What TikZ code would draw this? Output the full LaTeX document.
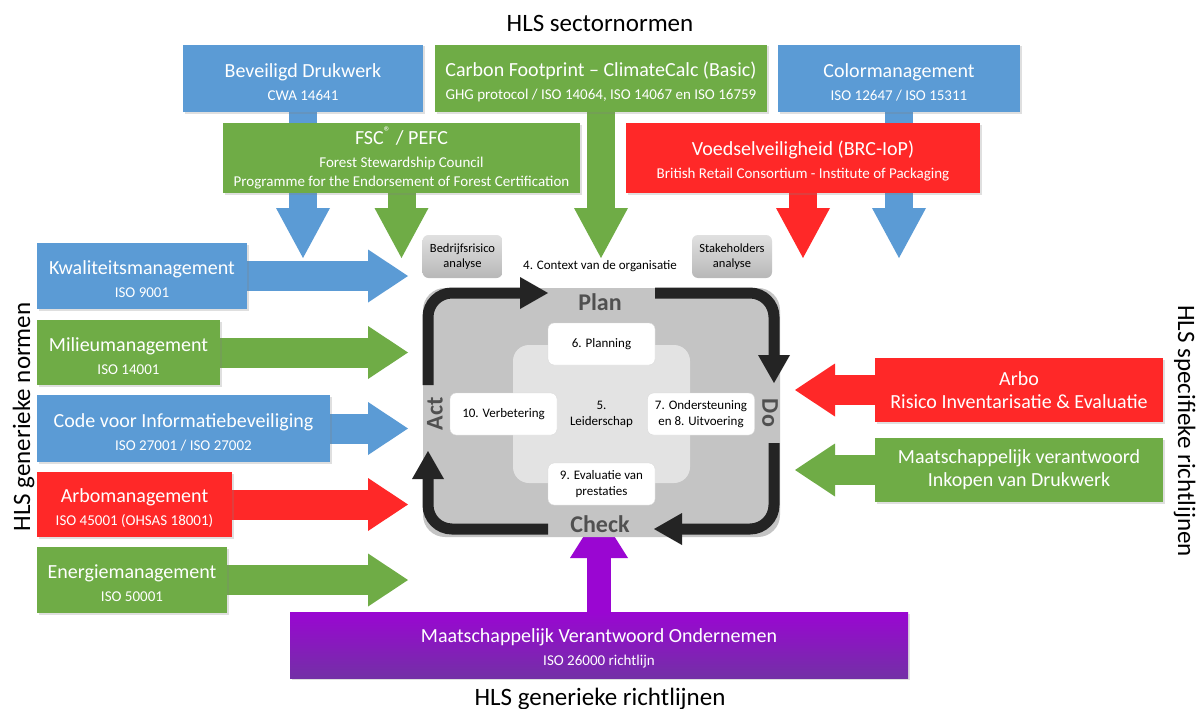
\documentclass[tikz,border=0pt]{standalone}
\usepackage{fontspec}
\setmainfont{Carlito}
\usetikzlibrary{arrows.meta,shadows,backgrounds}

\definecolor{hlsblue}{HTML}{5B9BD5}
\definecolor{hlsgreen}{HTML}{6FAC46}
\definecolor{hlsred}{HTML}{FF2828}
\definecolor{purpletop}{HTML}{9A06D2}
\definecolor{purplebot}{HTML}{7330A6}
\definecolor{pdcagray}{HTML}{C4C4C4}
\definecolor{pdcalight}{HTML}{E3E3E3}
\definecolor{pdcaline}{HTML}{242424}
\definecolor{pdcatext}{HTML}{505050}

\newcommand\bigtxt{\fontsize{20}{23}\selectfont}
\newcommand\subtxt{\fontsize{15}{18}\selectfont}
\newcommand\pdcatxt{\fontsize{13}{16}\selectfont}
\newcommand\headtxt{\fontsize{25}{30}\selectfont}
\newcommand\lowr{\rule{0pt}{21pt}}

\begin{document}
\begin{tikzpicture}[x=1pt,y=-1pt,
  norm/.style={text=white,align=center,inner sep=0pt,font=\bigtxt,
    drop shadow={opacity=0.25,shadow xshift=1.5pt,shadow yshift=-1.5pt}},
  downarr/.style={line width=28pt,-{Triangle[width=54pt,length=50pt,line width=0pt]}},
  sidearr/.style={line width=30pt,-{Triangle[width=53pt,length=40pt,line width=0pt]}},
  uparr/.style={line width=24pt,-{Triangle[width=58pt,length=46pt,line width=0pt]}},
  cyc/.style={line width=11pt,draw=pdcaline,rounded corners=24pt,-{Triangle[width=32pt,length=28pt,line width=0pt]}},
  small/.style={fill=white,draw=black!15,rounded corners=6pt,align=center,font=\pdcatxt,
    minimum width=107pt,minimum height=42pt,inner sep=0pt},
  grey/.style={top color=black!12,bottom color=black!28,rounded corners=6pt,align=center,
    font=\fontsize{12.5}{15}\selectfont,minimum width=80pt,minimum height=43pt,inner sep=0pt},
  phase/.style={font=\fontsize{24}{28}\selectfont\bfseries,text=pdcatext},
  head/.style={font=\headtxt,anchor=base}]

\useasboundingbox (0,0) rectangle (1200,709);

% sector norms on top
\node[head] (tsector) at (600,32) {HLS sectornormen};
\node[norm,fill=hlsblue,minimum width=240pt,minimum height=67pt] (secure) at (303,78.5) {\lowr Beveiligd Drukwerk\\{\subtxt CWA 14641}};
\node[norm,fill=hlsgreen,minimum width=332pt,minimum height=67pt] (carbon) at (601,78.5) {\lowr Carbon Footprint – ClimateCalc (Basic)\\{\subtxt GHG protocol / ISO 14064, ISO 14067 en ISO 16759}};
\node[norm,fill=hlsblue,minimum width=242pt,minimum height=67pt] (color) at (899,78.5) {\lowr Colormanagement\\{\subtxt ISO 12647 / ISO 15311}};
\node[norm,fill=hlsgreen,minimum width=357pt,minimum height=70pt] (fsc) at (401.5,158) {FSC\textsuperscript{®} / PEFC\\{\subtxt Forest Stewardship Council}\\[-4pt]{\subtxt Programme for the Endorsement of Forest Certification}};
\node[norm,fill=hlsred,minimum width=354pt,minimum height=70pt] (food) at (803,158) {\lowr Voedselveiligheid (BRC-IoP)\\{\subtxt British Retail Consortium - Institute of Packaging}};

% generic norms on the left
\node[head,rotate=90] (tgeneric) at (30,417) {HLS generieke normen};
\node[norm,fill=hlsblue,minimum width=210pt,minimum height=66pt] (quality) at (142,276) {\lowr Kwaliteitsmanagement\\{\subtxt ISO 9001}};
\node[norm,fill=hlsgreen,minimum width=183pt,minimum height=65pt] (environ) at (128.5,352.5) {\lowr Milieumanagement\\{\subtxt ISO 14001}};
\node[norm,fill=hlsblue,minimum width=293pt,minimum height=67pt] (infosec) at (183.5,428.5) {\lowr Code voor Informatiebeveiliging\\{\subtxt ISO 27001 / ISO 27002}};
\node[norm,fill=hlsred,minimum width=195pt,minimum height=65pt] (safety) at (134.5,504.5) {\lowr Arbomanagement\\{\subtxt ISO 45001 (OHSAS 18001)}};
\node[norm,fill=hlsgreen,minimum width=190pt,minimum height=66pt] (energy) at (132,580) {\lowr Energiemanagement\\{\subtxt ISO 50001}};

% specific guidelines on the right
\node[head,rotate=-90] (tspecific) at (1178,431) {HLS specifieke richtlijnen};
\node[norm,fill=hlsred,minimum width=288pt,minimum height=64pt] (rie) at (1019,390) {Arbo\\Risico Inventarisatie \& Evaluatie};
\node[norm,fill=hlsgreen,minimum width=288pt,minimum height=64pt] (mvi) at (1019,470) {Maatschappelijk verantwoord\\Inkopen van Drukwerk};

% generic guidelines below
\node[norm,top color=purpletop,bottom color=purplebot,minimum width=618pt,minimum height=66pt] (mvo) at (599,645) {\lowr Maatschappelijk Verantwoord Ondernemen\\{\subtxt ISO 26000 richtlijn}};
\node[head] (tguide) at (600,705) {HLS generieke richtlijnen};

% PDCA cycle
\node[fill=pdcagray,rounded corners=22pt,minimum width=357pt,minimum height=249pt,inner sep=0pt] (pdca) at (601.5,412.5) {};
\node[fill=pdcalight,rounded corners=16pt,minimum width=177pt,minimum height=138pt,align=center,font=\pdcatxt] (lead) at (601.5,414) {5.\\Leiderschap};
\node[small] (plan6) at (601.5,344) {6. Planning};
\node[small] (impr) at (503.5,414) {10. Verbetering};
\node[small] (supp) at (701,414) {7. Ondersteuning\\en 8. Uitvoering};
\node[small] (eval) at (601.5,484) {9. Evaluatie van\\prestaties};
\node[grey] (risk) at (462.5,256.5) {Bedrijfsrisico\\analyse};
\node[grey] (stake) at (732,256.5) {Stakeholders\\analyse};
\node[font=\pdcatxt] (context) at (600,266) {4. Context van de organisatie};

\draw[cyc] (428,385) -- (428,293) -- (548,293);
\draw[cyc] (655,293) -- (774,293) -- (774,383);
\draw[cyc] (774,443) -- (774,529) -- (654,529);
\draw[cyc] (548,529) -- (428,529) -- (428,451);

\node[phase] (plan) at (600,302) {Plan};
\node[phase] (check) at (600,524) {Check};
\node[phase,rotate=90] (act) at (435,414) {Act};
\node[phase,rotate=-90] (do) at (770,413) {Do};

% arrow tips
\coordinate (topin) at (0,258);
\coordinate (leftin) at (408,0);
\coordinate (rightin) at (795,0);
\coordinate (botin) at (0,512);

\begin{scope}[on background layer]
\fill[white] (0,0) rectangle (1200,709);
\draw[downarr,hlsblue] (secure.south) -- (secure.south |- topin);
\draw[downarr,hlsgreen] (fsc.south) -- (fsc.south |- topin);
\draw[downarr,hlsgreen] (carbon.south) -- (carbon.south |- topin);
\draw[downarr,hlsred] (food.south) -- (food.south |- topin);
\draw[downarr,hlsblue] (color.south) -- (color.south |- topin);
\draw[sidearr,hlsblue] (quality.east) -- (quality.east -| leftin);
\draw[sidearr,hlsgreen] (environ.east) -- (environ.east -| leftin);
\draw[sidearr,hlsblue] (infosec.east) -- (infosec.east -| leftin);
\draw[sidearr,hlsred] (safety.east) -- (safety.east -| leftin);
\draw[sidearr,hlsgreen] (energy.east) -- (energy.east -| leftin);
\draw[sidearr,hlsred] (rie.west) -- (rie.west -| rightin);
\draw[sidearr,hlsgreen] (mvi.west) -- (mvi.west -| rightin);
\draw[uparr,purpletop] (mvo.north) -- (mvo.north |- botin);
\end{scope}
\end{tikzpicture}
\end{document}
